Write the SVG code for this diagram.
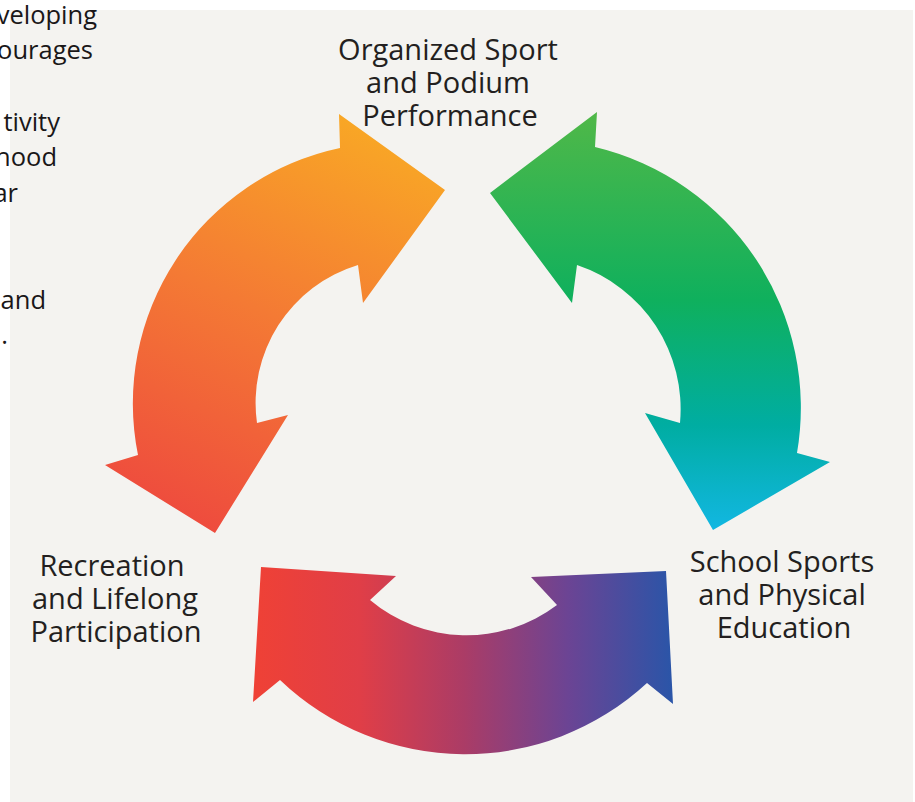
<svg xmlns="http://www.w3.org/2000/svg" width="915" height="802" viewBox="0 0 915 802">
  <defs>
    <style>
      .lbl { font-family: "Open Sans", "Liberation Sans", sans-serif; font-size: 29px; fill: #231f20; text-anchor: middle; }
      .side { font-family: "Open Sans", "Liberation Sans", sans-serif; font-size: 25.5px; font-weight: 500; fill: #1a1718; text-anchor: end; }
    </style>
    <linearGradient id="gOrange" gradientUnits="userSpaceOnUse" x1="390" y1="115" x2="200" y2="535">
      <stop offset="0" stop-color="#f9ab24"/>
      <stop offset="0.5" stop-color="#f47a34"/>
      <stop offset="1" stop-color="#ee4a3e"/>
    </linearGradient>
    <linearGradient id="gGreen" gradientUnits="userSpaceOnUse" x1="0" y1="112" x2="0" y2="530">
      <stop offset="0" stop-color="#50b848"/>
      <stop offset="0.45" stop-color="#0fb05d"/>
      <stop offset="0.75" stop-color="#00ada2"/>
      <stop offset="1" stop-color="#12b7e2"/>
    </linearGradient>
    <linearGradient id="gBottom" gradientUnits="userSpaceOnUse" x1="255" y1="0" x2="673" y2="0">
      <stop offset="0" stop-color="#ef4136"/>
      <stop offset="0.25" stop-color="#e03e47"/>
      <stop offset="0.5" stop-color="#ab3c66"/>
      <stop offset="0.75" stop-color="#6b4494"/>
      <stop offset="1" stop-color="#2a55a8"/>
    </linearGradient>
  </defs>

  <rect x="0" y="0" width="915" height="802" fill="#ffffff"/>
  <rect x="10" y="10" width="903" height="792" fill="#f4f3f0"/>

  <g id="side-text">
    <text class="side" x="97" y="24">veloping</text>
    <text class="side" x="93" y="59">ourages</text>
    <text class="side" x="60" y="131">tivity</text>
    <text class="side" x="57" y="166">hood</text>
    <text class="side" x="18" y="202">ar</text>
    <text class="side" x="46" y="309">and</text>
    <text class="side" x="8" y="344">l.</text>
  </g>

  <g id="connectors">
    <path id="arrow-orange" fill="url(#gOrange)" d="M 340 148 A 261 261 0 0 0 138 455 L 105 465 L 215 533 L 288 415 L 257 423 A 144 144 0 0 1 358 265 L 363 303 L 445 190 L 339 114 Z"/>
    <path id="arrow-green" fill="url(#gGreen)" d="M 595 147 A 268 268 0 0 1 797 453 L 830 462 L 713 530 L 645 413 L 680 423 A 152 152 0 0 0 577 265 L 572 303 L 490 193 L 597 112 Z"/>
    <path id="arrow-bottom" fill="url(#gBottom)" d="M 280 680 A 268 268 0 0 0 647 683 L 673 704 L 666 571 L 531 577 L 557 605 A 150 150 0 0 1 370 600 L 396 576 L 261 567 L 253 702 Z"/>
  </g>

  <g id="node-organized">
    <text class="lbl" x="448" y="60">Organized Sport</text>
    <text class="lbl" x="448" y="93">and Podium</text>
    <text class="lbl" x="450" y="126">Performance</text>
  </g>
  <g id="node-recreation">
    <text class="lbl" x="112" y="576">Recreation</text>
    <text class="lbl" x="115" y="609">and Lifelong</text>
    <text class="lbl" x="116" y="642">Participation</text>
  </g>
  <g id="node-school">
    <text class="lbl" x="782" y="572">School Sports</text>
    <text class="lbl" x="782" y="605">and Physical</text>
    <text class="lbl" x="784" y="638">Education</text>
  </g>
</svg>
